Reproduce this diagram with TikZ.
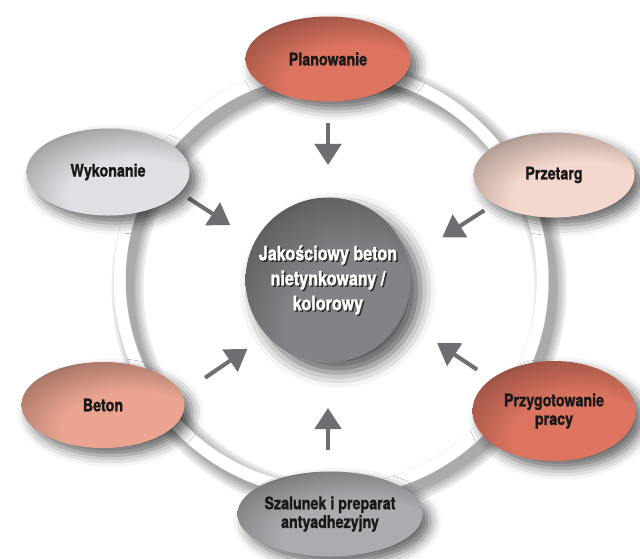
\documentclass[tikz,border=0pt]{standalone}
\usepackage{fontspec}
\setmainfont{TeX Gyre Heros}[FakeStretch=0.82, BoldFeatures={FakeBold=1.2}]
\usepackage{tikz}
\usetikzlibrary{positioning}
\usetikzlibrary{calc}
\usetikzlibrary{shapes.geometric}
\usetikzlibrary{shadows.blur}
\usepgflibrary{arrows.meta}
\usepackage{xcolor}

\definecolor{arrowgray}{RGB}{109,110,113}
\definecolor{brick}{RGB}{220,116,96}
\definecolor{blush}{RGB}{245,216,205}
\definecolor{salmon}{RGB}{234,164,144}
\definecolor{silver}{RGB}{222,224,227}
\definecolor{ashgray}{RGB}{170,172,175}
\definecolor{coregray}{RGB}{130,131,134}
\colorlet{glowlight}{silver}
\colorlet{glowdark}{black}

\pgfdeclareradialshading[glowlight,glowdark]{glow}{\pgfpoint{12bp}{-18bp}}{%
  color(0bp)=(glowlight); color(22bp)=(glowlight);
  color(37bp)=(glowlight!68!glowdark); color(50bp)=(glowdark); color(100bp)=(glowdark)}

\begin{document}
\begin{tikzpicture}[
    tint/.code={\colorlet{glowlight}{#1}\colorlet{glowdark}{#1!22!black}},
    bubble/.style={ellipse, shading=glow, inner sep=0pt, align=center, text=black!90,
      font=\bfseries\fontsize{9.9}{10.6}\selectfont,
      blur shadow={shadow xshift=0.15cm, shadow yshift=-0.15cm, shadow blur radius=0.22cm, shadow opacity=60}},
    hubdisc/.style={circle, shading=glow, inner sep=0pt, minimum size=3.3cm,
      blur shadow={shadow xshift=0.2cm, shadow yshift=-0.2cm, shadow blur radius=0.3cm, shadow opacity=65}},
    coretext/.style={align=center, text=white, font=\bfseries\fontsize{11.2}{14.2}\selectfont},
    flow/.style={draw=arrowgray, line width=2.3pt, -{Triangle[width=15pt, length=12pt]}}
  ]
    \useasboundingbox (0,0) rectangle (12.8,-11.16);
    \coordinate (hub) at (6.62,-5.6);

    \foreach \w in {0.64,0.54,0.44,0.34,0.26}
      \path[draw=black, opacity=0.08, line width=\w cm] ($(hub)+(0.16,-0.16)$) circle[radius=4.23];
    \path[draw=gray!18, line width=0.25cm] (hub) circle[radius=4.23];
    \path[draw=white, line width=0.23cm] (hub) circle[radius=4.23];

    \node[hubdisc, tint=coregray] (core) at (6.56,-5.6) {};
    \node[coretext, text=black, text opacity=0.6] at ($(core)+(0.03,-0.03)$) {Jakościowy beton\\nietynkowany /\\kolorowy};
    \node[coretext] (corelabel) at (core) {Jakościowy beton\\nietynkowany /\\kolorowy};

    \draw[flow] ($(core)+(90:3.14)$) -- ($(core)+(90:2.3)$);
    \draw[flow] ($(core)+(24:3.42)$) -- ($(core)+(20.5:2.44)$);
    \draw[flow] ($(core)+(-31:3.48)$) -- ($(core)+(-30:2.52)$);
    \draw[flow] ($(core)+(-90:3.4)$) -- ($(core)+(-90:2.56)$);
    \draw[flow] ($(core)+(218.5:3.14)$) -- ($(core)+(220.5:2.12)$);
    \draw[flow] ($(core)+(149.6:3.24)$) -- ($(core)+(150.7:2.24)$);

    \node[bubble, tint=brick, minimum width=3.3cm, minimum height=1.7cm] (plan) at (6.56,-1.18) {Planowanie};
    \node[bubble, tint=blush, minimum width=3.22cm, minimum height=1.7cm] (tender) at (11.08,-3.5) {Przetarg};
    \node[bubble, tint=brick, minimum width=3.26cm, minimum height=2.0cm] (prep) at (11.08,-8.22) {Przygotowanie\\pracy};
    \node[bubble, tint=ashgray, minimum width=3.4cm, minimum height=1.7cm] (form) at (6.6,-10.28) {Szalunek i preparat\\antyadhezyjny};
    \node[bubble, tint=salmon, minimum width=3.26cm, minimum height=1.72cm] (concrete) at (2.06,-8.1) {Beton};
    \node[bubble, tint=silver, minimum width=3.26cm, minimum height=1.74cm] (works) at (2.16,-3.44) {Wykonanie};
  \end{tikzpicture}
\end{document}
